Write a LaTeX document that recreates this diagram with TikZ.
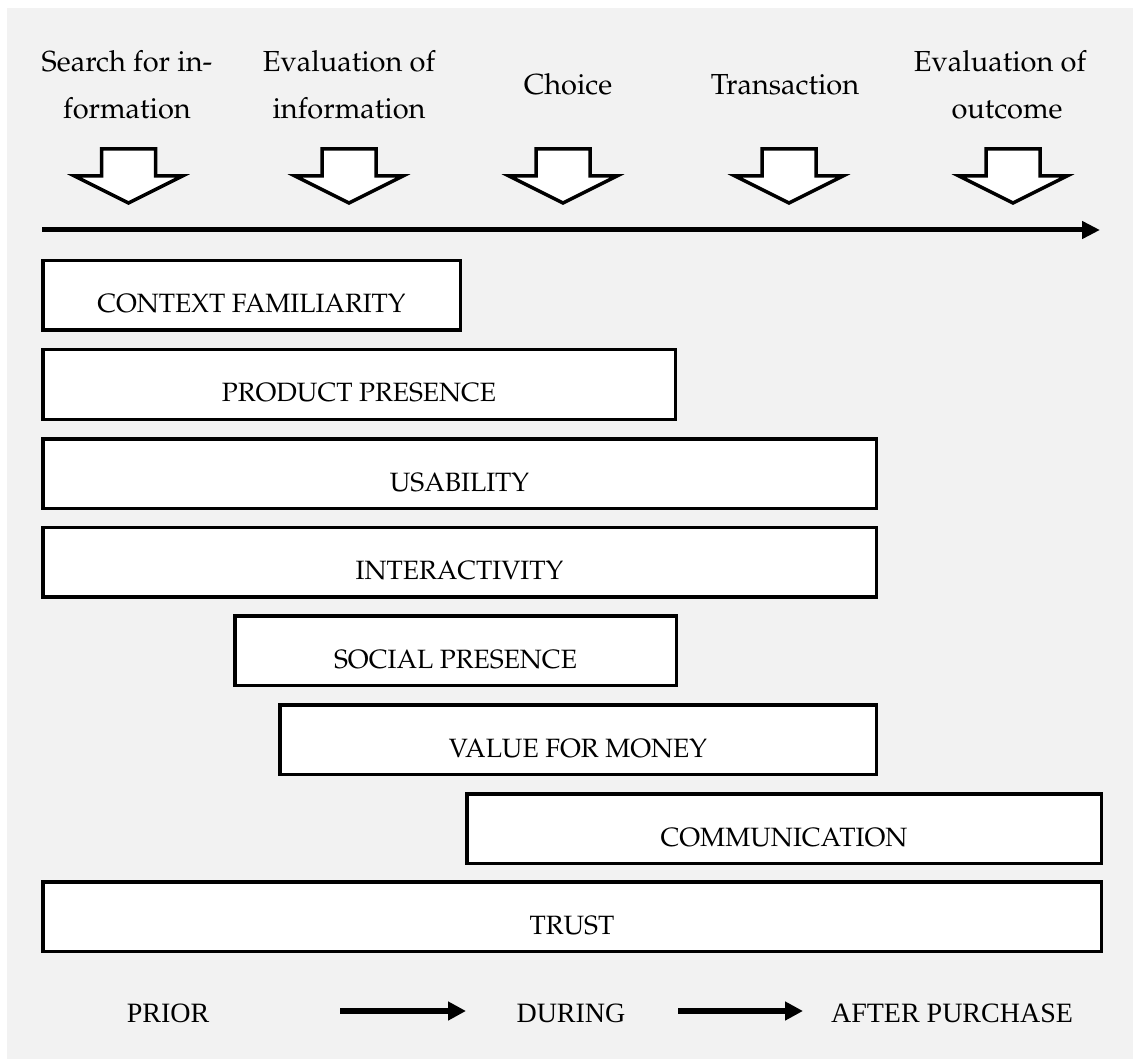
\documentclass[tikz,border=0pt]{standalone}
\usepackage[T1]{fontenc}
\usepackage{fontspec}
\newfontfamily\timesf{Liberation Serif}
\newcommand\palf{\fontencoding{T1}\fontfamily{ppl}\selectfont}
\usetikzlibrary{arrows.meta}
\definecolor{bggray}{HTML}{F2F2F2}
\begin{document}
\begin{tikzpicture}[x=1pt,y=-1pt,
  bar/.style={draw=black, fill=white, line width=3.5pt, inner sep=0pt, minimum height=69.5pt},
  barlbl/.style={font={\palf\fontsize{26.5}{30}\selectfont}, anchor=base, inner sep=0pt},
  steplbl/.style={font={\palf\fontsize{29}{34}\selectfont}, anchor=base, inner sep=0pt},
  phase/.style={font={\timesf\fontsize{28}{32}\selectfont}, anchor=base, inner sep=0pt},
  blockarrow/.style={draw=black, fill=white, line width=3.5pt, line join=miter},
  timeline/.style={line width=5pt, -{Triangle[length=18pt,width=17pt]}},
  flow/.style={line width=6pt, -{Triangle[length=18pt,width=18pt]}},
]
% background
\fill[white] (0,0) rectangle (1133,1059);
\fill[bggray] (7,8) rectangle (1133,1059);
\useasboundingbox (0,0) rectangle (1133,1059);

% step labels
\node[steplbl] (s1a) at (127,72) {Search for in-};
\node[steplbl] (s1b) at (127,119) {formation};
\node[steplbl] (s2a) at (349,72) {Evaluation of};
\node[steplbl] (s2b) at (349,119) {information};
\node[steplbl] (s3) at (568,95) {Choice};
\node[steplbl] (s4) at (785,95) {Transaction};
\node[steplbl] (s5a) at (1000,72) {Evaluation of};
\node[steplbl] (s5b) at (1007,119) {outcome};

% block arrows
\foreach \cx in {128.5,349,563,789,1013}{
  \draw[blockarrow] (\cx-27,149) -- (\cx+27,149) -- (\cx+27,176) -- (\cx+54,176)
    -- (\cx,203) -- (\cx-54,176) -- (\cx-27,176) -- cycle;
}

% timeline
\coordinate (tl0) at (42,230);
\coordinate (tl1) at (1100,230);
\draw[timeline] (tl0) -- (tl1);

% bars
\node[bar, minimum width=417.5pt] (cf) at (251.5,295.5) {};
\node[bar, minimum width=632.5pt] (pp) at (359,384.5) {};
\node[bar, minimum width=833.5pt] (us) at (459.5,473.5) {};
\node[bar, minimum width=833.5pt] (ia) at (459.5,562) {};
\node[bar, minimum width=441.5pt] (sp) at (455.5,650.5) {};
\node[bar, minimum width=596.5pt] (vm) at (578,739.5) {};
\node[bar, minimum width=634.5pt] (co) at (784,828.5) {};
\node[bar, minimum width=1058.5pt] (tr) at (572,916.5) {};

\node[barlbl] (cf-t) at ([yshift=-17.5pt]cf.center) {CONTEXT FAMILIARITY};
\node[barlbl] (pp-t) at ([yshift=-17.5pt]pp.center) {PRODUCT PRESENCE};
\node[barlbl] (us-t) at ([yshift=-17.5pt]us.center) {USABILITY};
\node[barlbl] (ia-t) at ([yshift=-17.5pt]ia.center) {INTERACTIVITY};
\node[barlbl] (sp-t) at ([yshift=-17.5pt]sp.center) {SOCIAL PRESENCE};
\node[barlbl] (vm-t) at ([yshift=-17.5pt]vm.center) {VALUE FOR MONEY};
\node[barlbl] (co-t) at ([yshift=-17.5pt]co.center) {COMMUNICATION};
\node[barlbl] (tr-t) at ([yshift=-17.5pt]tr.center) {TRUST};

% phases
\node[phase] (prior) at (168,1022) {PRIOR};
\node[phase] (during) at (571,1022) {DURING};
\node[phase] (after) at (952,1022) {AFTER PURCHASE};
\coordinate (f1a) at (340,1011);
\coordinate (f1b) at (466,1011);
\coordinate (f2a) at (678,1011);
\coordinate (f2b) at (803,1011);
\draw[flow] (f1a) -- (f1b);
\draw[flow] (f2a) -- (f2b);
\end{tikzpicture}
\end{document}
